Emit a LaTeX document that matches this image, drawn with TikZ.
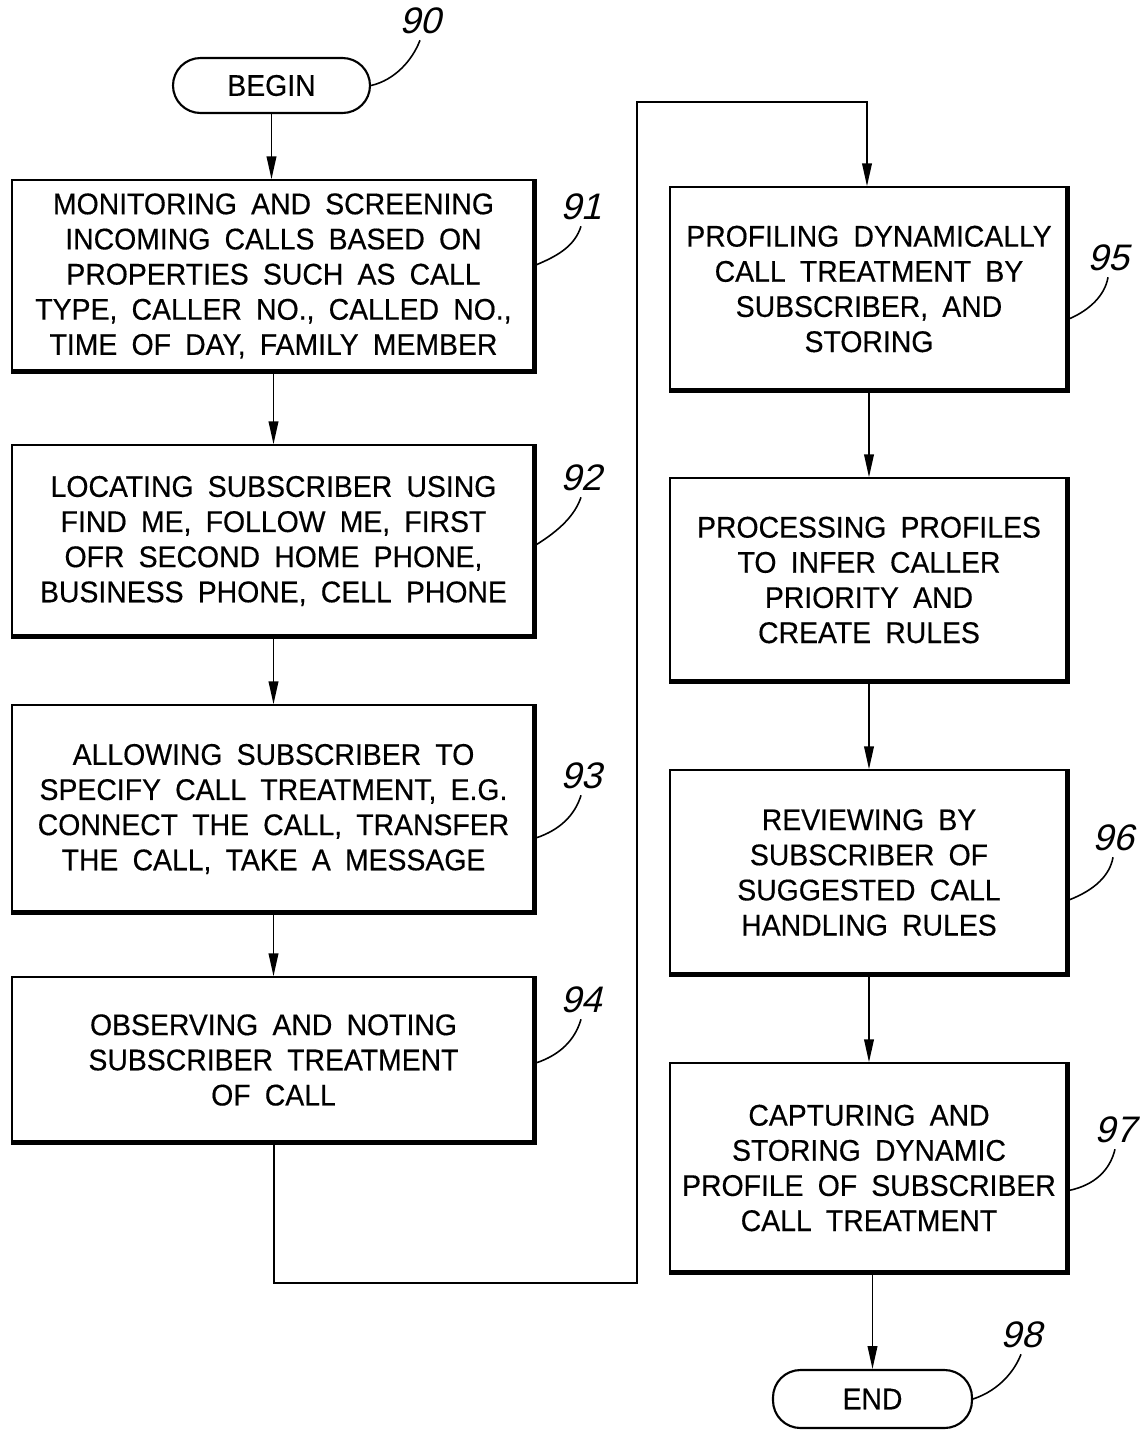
\documentclass[tikz,border=0pt]{standalone}
\usepackage{fontspec}
\setmainfont{Liberation Sans}[FakeStretch=0.95, WordSpace=1.8, FakeBold=0.4]
\newfontfamily\numfont{Liberation Sans}[FakeSlant=0.25]
\usetikzlibrary{positioning, arrows.meta, calc}

\begin{document}
\begin{tikzpicture}
		\tikzset{
			>={Triangle[width=5.5pt,length=13pt]},
			stepbox/.style={draw, line width=0.9pt, align=center, font=\fontsize{17}{20}\selectfont},
			leftbox/.style={stepbox, minimum width=10.46cm},
			rightbox/.style={stepbox, minimum width=7.96cm},
			termbox/.style={draw, line width=1.2pt, rounded corners=0.55cm, font=\fontsize{17}{20}\selectfont},
			reflabel/.style={font=\numfont\fontsize{21}{21}\selectfont},
			flow/.style={line width=0.9pt}
		}
		\useasboundingbox (0,0) rectangle (22.8,-28.62);
		
		% Start and end
		\node[termbox, minimum width=3.94cm, minimum height=1.1cm] (begin) at (5.43,-1.71) {BEGIN};
		\node[termbox, minimum width=3.98cm, minimum height=1.16cm] (end) at (17.45,-27.98) {END};
		
		% Left column
		\node[leftbox, minimum height=3.84cm] (s91) at (5.47,-5.52) {MONITORING AND SCREENING\\INCOMING CALLS BASED ON\\PROPERTIES SUCH AS CALL\\TYPE, CALLER NO., CALLED NO.,\\TIME OF DAY, FAMILY MEMBER};
		\node[leftbox, minimum height=3.84cm] (s92) at (5.47,-10.82) {LOCATING SUBSCRIBER USING\\FIND ME, FOLLOW ME, FIRST\\OFR SECOND HOME PHONE,\\BUSINESS PHONE, CELL PHONE};
		\node[leftbox, minimum height=4.16cm] (s93) at (5.47,-16.18) {ALLOWING SUBSCRIBER TO\\SPECIFY CALL TREATMENT, E.G.\\CONNECT THE CALL, TRANSFER\\THE CALL, TAKE A MESSAGE};
		\node[leftbox, minimum height=3.32cm] (s94) at (5.47,-21.2) {OBSERVING AND NOTING\\SUBSCRIBER TREATMENT\\OF CALL};
		
		% Right column
		\node[rightbox, minimum height=4.08cm] (s95) at (17.38,-5.78) {PROFILING DYNAMICALLY\\CALL TREATMENT BY\\SUBSCRIBER, AND\\STORING};
		\node[rightbox, minimum height=4.08cm] (proc) at (17.38,-11.6) {PROCESSING PROFILES\\TO INFER CALLER\\PRIORITY AND\\CREATE RULES};
		\node[rightbox, minimum height=4.1cm] (s96) at (17.38,-17.45) {REVIEWING BY\\SUBSCRIBER OF\\SUGGESTED CALL\\HANDLING RULES};
		\node[rightbox, minimum height=4.2cm] (s97) at (17.38,-23.36) {CAPTURING AND\\STORING DYNAMIC\\PROFILE OF SUBSCRIBER\\CALL TREATMENT};
		
		% Heavy right and bottom edges
		\foreach \b in {s91,s92,s93,s94,s95,proc,s96,s97}
			\draw[line width=2.6pt] ($(\b.north east)+(-0.03,0)$) -- ($(\b.south east)+(-0.03,0.03)$) -- ($(\b.south west)+(0,0.03)$);
		
		% Flow
		\draw[flow, ->] (begin) -- (begin |- s91.north);
		\draw[flow, ->] (s91) -- (s92);
		\draw[flow, ->] (s92) -- (s93);
		\draw[flow, ->] (s93) -- (s94);
		\coordinate (turnA) at (5.48,-25.66);
		\coordinate (turnB) at (12.74,-25.66);
		\coordinate (turnC) at (12.74,-2.04);
		\coordinate (turnD) at (17.34,-2.04);
		\draw[flow, ->] (s94.south -| turnA) -- (turnA) -- (turnB) -- (turnC) -- (turnD) -- (s95.north -| turnD);
		\draw[flow, ->] (s95) -- (proc);
		\draw[flow, ->] (proc) -- (s96);
		\draw[flow, ->] (s96) -- (s97);
		\draw[flow, ->] (s97.south -| end) -- (end);
		
		% Reference numerals
		\node[reflabel] (l90) at (8.4,-0.42) {90};
		\node[reflabel] (l91) at (11.62,-4.14) {91};
		\node[reflabel] (l92) at (11.62,-9.56) {92};
		\node[reflabel] (l93) at (11.62,-15.52) {93};
		\node[reflabel] (l94) at (11.62,-20.0) {94};
		\node[reflabel] (l95) at (22.16,-5.16) {95};
		\node[reflabel] (l96) at (22.26,-16.76) {96};
		\node[reflabel] (l97) at (22.3,-22.6) {97};
		\node[reflabel] (l98) at (20.42,-26.7) {98};
		
		\draw[flow] (begin.east) .. controls (7.9,-1.6) and (8.25,-1.2) .. (l90.south);
		\draw[flow] ($(s91.east)+(0,0.22)$) .. controls (11.2,-5.1) and (11.5,-4.9) .. (l91.south);
		\draw[flow] ($(s92.east)+(0,-0.08)$) .. controls (11.2,-10.6) and (11.5,-10.3) .. (l92.south);
		\draw[flow] ($(s93.east)+(0,-0.58)$) .. controls (11.2,-16.6) and (11.5,-16.3) .. (l93.south);
		\draw[flow] ($(s94.east)+(0,-0.06)$) .. controls (11.2,-21.1) and (11.5,-20.8) .. (l94.south);
		\draw[flow] ($(s95.east)+(0,-0.6)$) .. controls (21.8,-6.2) and (22.1,-5.9) .. (l95.south);
		\draw[flow] ($(s96.east)+(0,-0.55)$) .. controls (21.9,-17.8) and (22.2,-17.5) .. (l96.south);
		\draw[flow] ($(s97.east)+(0,-0.45)$) .. controls (21.9,-23.7) and (22.2,-23.4) .. (l97.south);
		\draw[flow] (end.east) .. controls (20.0,-27.8) and (20.3,-27.4) .. (l98.south);
		
	\end{tikzpicture}
\end{document}
